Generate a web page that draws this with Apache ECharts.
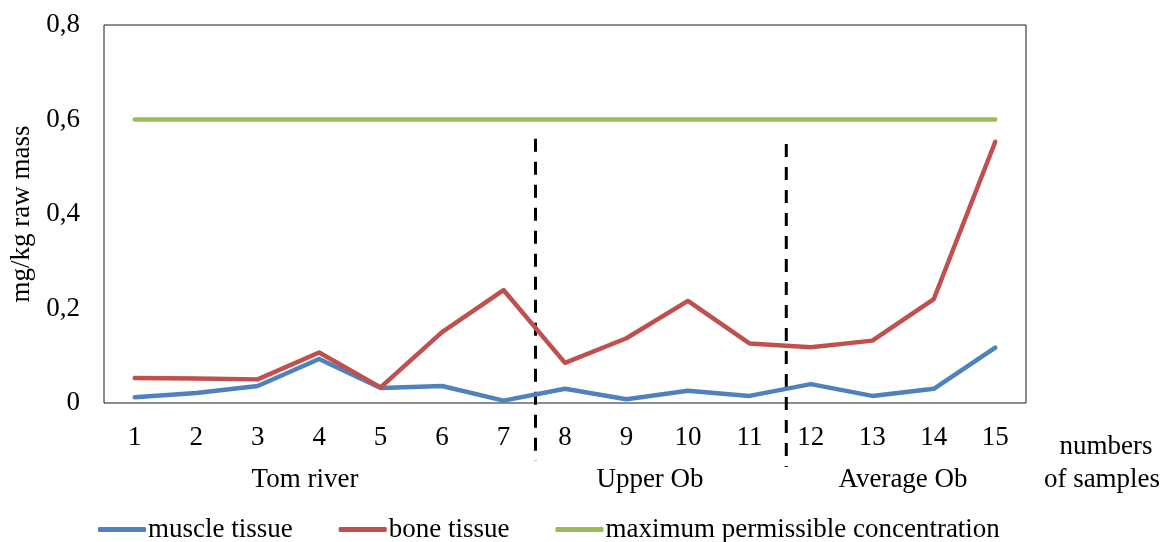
<!DOCTYPE html>
<html>
<head>
<meta charset="utf-8">
<script src="https://cdn.jsdelivr.net/npm/echarts@6/dist/echarts.min.js"></script>
<style>
html,body{margin:0;padding:0;background:#fff;}
#chart{width:1166px;height:542px;}
</style>
</head>
<body>
<div id="chart"></div>
<script>
const categories = ['1','2','3','4','5','6','7','8','9','10','11','12','13','14','15'];
const muscleTissue = [0.012, 0.021, 0.036, 0.093, 0.032, 0.036, 0.005, 0.030, 0.008, 0.026, 0.015, 0.040, 0.015, 0.030, 0.117];
const boneTissue = [0.053, 0.052, 0.050, 0.107, 0.033, 0.150, 0.239, 0.085, 0.137, 0.216, 0.126, 0.118, 0.132, 0.220, 0.553];
const maxPermissible = [0.6, 0.6, 0.6, 0.6, 0.6, 0.6, 0.6, 0.6, 0.6, 0.6, 0.6, 0.6, 0.6, 0.6, 0.6];
const seriesNames = ['muscle tissue', 'bone tissue', 'maximum permissible concentration'];
const groupLabels = ['Tom river', 'Upper Ob', 'Average Ob'];
const yAxisTitle = 'mg/kg raw mass';
const xAxisTitle = ['numbers', 'of samples'];

const FONT = '"Liberation Serif", "Times New Roman", serif';
const FS = 27;
const chart = echarts.init(document.getElementById('chart'));

function mkLine(name, data, color) {
  return {
    name: name, type: 'line', data: data, symbol: 'none',
    lineStyle: { color: color, width: 4.5, cap: 'round', join: 'round' },
    itemStyle: { color: color }
  };
}

chart.setOption({
  animation: false,
  backgroundColor: '#fff',
  textStyle: { fontFamily: FONT },
  grid: { left: 104, right: 140, top: 25, bottom: 139, show: true, borderColor: '#1a1a1a', borderWidth: 1 },
  legend: {
    left: 93, top: 511, itemGap: 46, itemWidth: 48, itemHeight: 5,
    icon: 'roundRect',
    textStyle: { fontFamily: FONT, fontSize: FS, color: '#000', padding: [0,0,0,-3] },
    data: seriesNames
  },
  xAxis: {
    type: 'category', data: categories, boundaryGap: true,
    axisLine: { show: false }, axisTick: { show: false },
    axisLabel: { fontFamily: FONT, fontSize: FS, color: '#000', margin: 21 },
    splitLine: { show: false }
  },
  yAxis: {
    type: 'value', min: 0, max: 0.8, interval: 0.2,
    name: yAxisTitle, nameLocation: 'middle', nameGap: 63,
    nameTextStyle: { fontFamily: FONT, fontSize: FS, color: '#000' },
    axisLine: { show: false }, axisTick: { show: false },
    splitLine: { show: false },
    axisLabel: {
      fontFamily: FONT, fontSize: FS, color: '#000', margin: 24,
      formatter: v => (Math.round(v * 10) / 10).toString().replace('.', ',')
    }
  },
  series: [
    mkLine(seriesNames[0], muscleTissue, '#4F81BD'),
    mkLine(seriesNames[1], boneTissue, '#C0504D'),
    mkLine(seriesNames[2], maxPermissible, '#9BBB59')
  ]
});

function px(i) { return chart.convertToPixel({ xAxisIndex: 0 }, i); }
function py(v) { return chart.convertToPixel({ yAxisIndex: 0 }, v); }
const y0 = py(0);
const xd1 = px(6) + 0.52 * (px(7) - px(6));
const xd2 = px(10) + 0.6 * (px(11) - px(10));
const dashStyle = { stroke: '#000', lineWidth: 3, lineDash: [13, 10] };

function txt(x, y, s) {
  return { type: 'text', x: x, y: y, style: { text: s, font: FS + 'px ' + FONT, fill: '#000', align: 'center', verticalAlign: 'middle' } };
}

chart.setOption({
  graphic: [
    { type: 'line', shape: { x1: xd1, y1: py(0.559), x2: xd1, y2: y0 + 58 }, style: dashStyle },
    { type: 'line', shape: { x1: xd2, y1: py(0.548), x2: xd2, y2: y0 + 64 }, style: dashStyle },
    txt(305, 480, groupLabels[0]),
    txt(650, 480, groupLabels[1]),
    txt(903, 480, groupLabels[2]),
    txt(1106, 447, xAxisTitle[0]),
    txt(1102, 480, xAxisTitle[1])
  ]
});
</script>
</body>
</html>
